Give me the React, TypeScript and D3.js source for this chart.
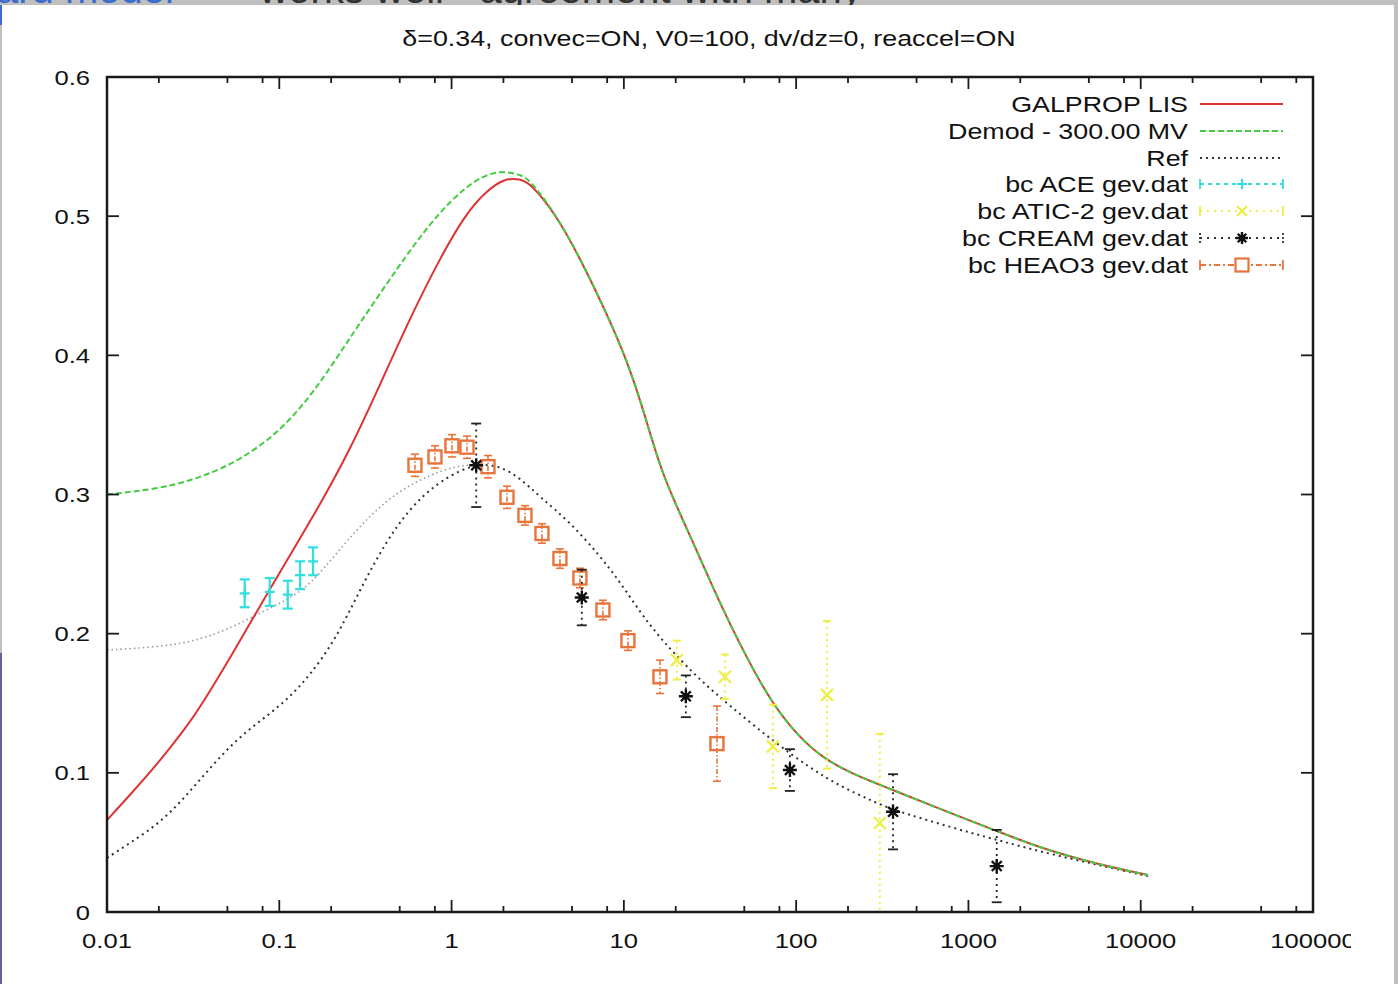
import React from "react";
import * as d3 from "d3";

// ---------- data ----------
const titleText = "δ=0.34, convec=ON, V0=100, dv/dz=0, reaccel=ON";
const xTickVals = [0.01, 0.1, 1, 10, 100, 1000, 10000, 100000];
const xTickLabels = ["0.01", "0.1", "1", "10", "100", "1000", "10000", "100000"];
const yTickVals = [0, 0.1, 0.2, 0.3, 0.4, 0.5, 0.6];
const yTickLabels = ["0", "0.1", "0.2", "0.3", "0.4", "0.5", "0.6"];
const minorMult = [2, 5, 8];

const lisE = [0.01, 0.0136, 0.0203, 0.0291, 0.0347, 0.0539, 0.0773, 0.111, 0.172, 0.257, 0.384, 0.574, 0.857, 1.197, 1.563, 2.042, 2.496, 2.852, 3.985, 5.566, 7.773, 10.43, 13.27, 16.65, 24.2, 34.72, 50.48, 73.4, 105.3, 143.2, 205.4, 365, 781.6, 1465, 2602, 5800, 11020];
const lisV = [0.0661, 0.0841, 0.1085, 0.1335, 0.147, 0.1861, 0.2199, 0.2529, 0.2925, 0.332, 0.3787, 0.4268, 0.4699, 0.5008, 0.5174, 0.5274, 0.5267, 0.5239, 0.5023, 0.4699, 0.4326, 0.3966, 0.3571, 0.314, 0.2709, 0.2263, 0.1847, 0.1487, 0.125, 0.1107, 0.0999, 0.0877, 0.0711, 0.0582, 0.046, 0.0338, 0.0266];

const demodE = [0.01, 0.02, 0.035, 0.06, 0.1, 0.15, 0.2, 0.3, 0.5, 0.7, 1, 1.4, 1.9, 2.5, 2.852, 3.985, 5.566, 7.773, 10.43, 13.27, 16.65, 24.2, 34.72, 50.48, 73.4, 105.3, 143.2, 205.4, 365, 781.6, 1465, 2602, 5800, 11020];
const demodV = [0.3, 0.304, 0.312, 0.325, 0.345, 0.37, 0.392, 0.425, 0.465, 0.49, 0.512, 0.527, 0.533, 0.53, 0.526, 0.5023, 0.4699, 0.4326, 0.3966, 0.3571, 0.314, 0.2709, 0.2263, 0.1847, 0.1487, 0.125, 0.1107, 0.0999, 0.0877, 0.0711, 0.0582, 0.046, 0.0338, 0.0266];

const refE = [0.01, 0.0136, 0.0203, 0.0284, 0.0396, 0.0553, 0.0773, 0.111, 0.151, 0.211, 0.294, 0.411, 0.574, 0.801, 1.119, 1.462, 1.91, 2.496, 3.261, 4.867, 7.269, 9.497, 12.41, 15.57, 19.29, 27.66, 41.31, 73.4, 120.3, 179.7, 268.4, 365, 781.6, 1465, 2975, 5800, 11020];
const refV = [0.0388, 0.0496, 0.064, 0.0826, 0.1035, 0.1229, 0.1372, 0.1523, 0.1703, 0.1954, 0.2314, 0.2651, 0.2903, 0.3068, 0.3176, 0.3219, 0.3205, 0.3119, 0.2982, 0.2802, 0.2558, 0.2371, 0.2156, 0.1998, 0.1868, 0.1667, 0.148, 0.1229, 0.1035, 0.0905, 0.0805, 0.0733, 0.0611, 0.0517, 0.0417, 0.0335, 0.0258];

const refModE = [0.01, 0.0203, 0.0347, 0.0539, 0.0773, 0.111, 0.151, 0.225, 0.336, 0.502, 0.75, 1.047, 1.462];
const refModV = [0.1883, 0.1904, 0.1954, 0.2048, 0.2149, 0.2242, 0.235, 0.2608, 0.2853, 0.3032, 0.314, 0.3205, 0.3219];

const aceE = [0.063, 0.088, 0.112, 0.132, 0.157];
const aceV = [0.229, 0.23, 0.228, 0.242, 0.252];
const aceErr = [0.01, 0.01, 0.01, 0.01, 0.01];

const aticE = [20.3, 38.6, 73.3, 151, 306];
const aticV = [0.181, 0.169, 0.119, 0.156, 0.064];
const aticErr = [0.014, 0.016, 0.03, 0.053, 0.064];

const creamE = [1.39, 5.7, 22.9, 92, 365, 1460];
const creamV = [0.321, 0.226, 0.155, 0.102, 0.072, 0.033];
const creamErr = [0.03, 0.02, 0.015, 0.015, 0.027, 0.026];

const heaoE = [0.613, 0.801, 1.005, 1.229, 1.627, 2.097, 2.667, 3.347, 4.256, 5.559, 7.56, 10.56, 16.2, 34.7];
const heaoV = [0.321, 0.327, 0.335, 0.334, 0.32, 0.298, 0.285, 0.272, 0.254, 0.24, 0.217, 0.195, 0.169, 0.121];
const heaoErr = [0.008, 0.008, 0.008, 0.008, 0.008, 0.008, 0.007, 0.007, 0.007, 0.007, 0.007, 0.007, 0.012, 0.027];

const legendLabels = ["GALPROP LIS", "Demod - 300.00 MV", "Ref", "bc ACE gev.dat", "bc ATIC-2 gev.dat", "bc CREAM gev.dat", "bc HEAO3 gev.dat"];

// ---------- styles ----------
const FONT = "'Liberation Sans', Arial, Helvetica, sans-serif";
const RED = "#dd3333";
const GREEN = "#44cc44";
const CYAN = "#33dde0";
const YELLOW = "#eeee44";
const ORANGE = "#e8743c";
const SX = 1.22;

const W = 1398, H = 984;
const L = 107, R = 1313, T = 77, B = 912;

const x = d3.scaleLog().domain([0.01, 100000]).range([L, R]);
const y = d3.scaleLinear().domain([0, 0.6]).range([B, T]);

const lineGen = d3
  .line<[number, number]>()
  .x((d) => x(d[0]))
  .y((d) => y(d[1]))
  .curve(d3.curveBasis);

const zipP = (a: number[], b: number[]) => a.map((v, i) => [v, b[i]] as [number, number]);

function Txt({ x0, y0, anchor, size, children, fill = "#111" }: any) {
  return (
    <text
      transform={`translate(${x0},${y0}) scale(${SX},1)`}
      textAnchor={anchor}
      fontFamily={FONT}
      fontSize={size}
      fill={fill}
    >
      {children}
    </text>
  );
}

function Asterisk({ cx, cy, r, color }: any) {
  const d = [0, 45, 90, 135]
    .map((a) => {
      const rad = (a * Math.PI) / 180;
      const dx = Math.cos(rad) * r, dy = Math.sin(rad) * r;
      return `M${cx - dx},${cy - dy}L${cx + dx},${cy + dy}`;
    })
    .join("");
  return <path d={d} stroke={color} strokeWidth={2.4} fill="none" />;
}

function Cross({ cx, cy, r, color, plus }: any) {
  const d = plus
    ? `M${cx - r},${cy}L${cx + r},${cy}M${cx},${cy - r}L${cx},${cy + r}`
    : `M${cx - r},${cy - r}L${cx + r},${cy + r}M${cx - r},${cy + r}L${cx + r},${cy - r}`;
  return <path d={d} stroke={color} strokeWidth={2.2} fill="none" />;
}

function ErrBar({ px, v, e, color, dash, cap, width = 1.6 }: any) {
  const y1 = y(v + e), y2 = y(v - e);
  return (
    <g stroke={color} strokeWidth={width} fill="none">
      <line x1={px} x2={px} y1={y1} y2={y2} strokeDasharray={dash} />
      <line x1={px - cap} x2={px + cap} y1={y1} y2={y1} />
      <line x1={px - cap} x2={px + cap} y1={y2} y2={y2} />
    </g>
  );
}

export default function App() {
  const minorTicks: number[] = [];
  for (let d = 0.01; d < 100000; d *= 10) for (const m of minorMult) minorTicks.push(d * m);

  const legY = [104, 131, 158, 184, 211, 238, 265];
  const lx1 = 1200, lx2 = 1283, lxm = 1242;

  return (
    <div style={{ position: "absolute", left: 0, top: 0 }}>
      <svg width={W} height={H} style={{ display: "block" }}>
        <defs>
          <clipPath id="plotClip">
            <rect x={L} y={T} width={R - L} height={B - T} />
          </clipPath>
          <clipPath id="canvasClip">
            <rect x={0} y={0} width={1351} height={H} />
          </clipPath>
          <clipPath id="topClip">
            <rect x={0} y={0} width={W} height={5} />
          </clipPath>
        </defs>
        {/* slide background */}
        <rect x={0} y={0} width={W} height={H} fill="#bfbfbf" />
        <rect x={2} y={5} width={1392} height={H - 5} fill="#ffffff" />
        <rect x={0} y={653} width={2} height={331} fill="#6a5c98" />
        <rect x={0} y={5} width={2} height={20} fill="#3a6ccc" />
        <g clipPath="url(#topClip)">
          <text x={-4} y={3} fontFamily={FONT} fontSize={40} fill="#3a6ccc">ard model</text>
          <text x={235} y={3} fontFamily={FONT} fontSize={40} fill="#333">” works well - agreement with many</text>
        </g>

        {/* title */}
        <Txt x0={709} y0={46} anchor="middle" size={22}>{titleText}</Txt>

        {/* curves */}
        <g clipPath="url(#plotClip)" fill="none">
          <path d={lineGen(zipP(refModE, refModV)) || ""} stroke="#9a9a9a" strokeWidth={1.6} strokeDasharray="1.5,3" />
          <path d={lineGen(zipP(refE, refV)) || ""} stroke="#333" strokeWidth={2} strokeDasharray="2,4" />
          <path d={lineGen(zipP(lisE, lisV)) || ""} stroke={RED} strokeWidth={2} />
          <path d={lineGen(zipP(demodE, demodV)) || ""} stroke={GREEN} strokeWidth={2} strokeDasharray="6,3" />
        </g>

        {/* data points */}
        <g>
          {aticE.map((e, i) => (
            <g key={"atic" + i}>
              <ErrBar px={x(e)} v={aticV[i]} e={aticErr[i]} color={YELLOW} dash="2,4" cap={4} width={2} />
              <Cross cx={x(e)} cy={y(aticV[i])} r={6} color={YELLOW} />
            </g>
          ))}
          {aceE.map((e, i) => (
            <g key={"ace" + i}>
              <ErrBar px={x(e)} v={aceV[i]} e={aceErr[i]} color={CYAN} cap={5} width={2.2} />
              <Cross cx={x(e)} cy={y(aceV[i])} r={5} color={CYAN} plus />
            </g>
          ))}
          {heaoE.map((e, i) => (
            <g key={"heao" + i}>
              <ErrBar px={x(e)} v={heaoV[i]} e={heaoErr[i]} color={ORANGE} dash="5,2,1.5,2" cap={4} width={1.6} />
              <rect x={x(e) - 6.5} y={y(heaoV[i]) - 6.5} width={13} height={13} fill="none" stroke={ORANGE} strokeWidth={2.4} />
            </g>
          ))}
          {creamE.map((e, i) => (
            <g key={"cream" + i}>
              <ErrBar px={x(e)} v={creamV[i]} e={creamErr[i]} color="#222" dash="2,4" cap={5} width={1.8} />
              <Asterisk cx={x(e)} cy={y(creamV[i])} r={7} color="#111" />
            </g>
          ))}
        </g>

        {/* frame */}
        <rect x={L} y={T} width={R - L} height={B - T} fill="none" stroke="#1a1a1a" strokeWidth={2.5} />

        {/* ticks */}
        <g stroke="#1a1a1a" strokeWidth={1.8}>
          {xTickVals.map((v) => (
            <g key={"xt" + v}>
              <line x1={x(v)} x2={x(v)} y1={B} y2={B - 12} />
              <line x1={x(v)} x2={x(v)} y1={T} y2={T + 12} />
            </g>
          ))}
          {minorTicks.map((v) => (
            <g key={"xm" + v}>
              <line x1={x(v)} x2={x(v)} y1={B} y2={B - 6} />
              <line x1={x(v)} x2={x(v)} y1={T} y2={T + 6} />
            </g>
          ))}
          {yTickVals.map((v) => (
            <g key={"yt" + v}>
              <line x1={L} x2={L + 12} y1={y(v)} y2={y(v)} />
              <line x1={R} x2={R - 12} y1={y(v)} y2={y(v)} />
            </g>
          ))}
        </g>

        {/* tick labels */}
        <g clipPath="url(#canvasClip)">
          {xTickVals.map((v, i) => (
            <Txt key={"xl" + v} x0={x(v)} y0={948} anchor="middle" size={21}>{xTickLabels[i]}</Txt>
          ))}
        </g>
        {yTickVals.map((v, i) => (
          <Txt key={"yl" + v} x0={90} y0={y(v) + 7.5} anchor="end" size={21}>{yTickLabels[i]}</Txt>
        ))}

        {/* legend */}
        <g>
          {legendLabels.map((lab, i) => (
            <Txt key={"lg" + i} x0={1188} y0={legY[i] + 8} anchor="end" size={22}>{lab}</Txt>
          ))}
          <line x1={lx1} x2={lx2} y1={legY[0]} y2={legY[0]} stroke={RED} strokeWidth={2} />
          <line x1={lx1} x2={lx2} y1={legY[1]} y2={legY[1]} stroke={GREEN} strokeWidth={2} strokeDasharray="6,3" />
          <line x1={lx1} x2={lx2} y1={legY[2]} y2={legY[2]} stroke="#333" strokeWidth={2} strokeDasharray="2,4" />
          {/* ACE */}
          <g stroke={CYAN} strokeWidth={1.8}>
            <line x1={lx1} x2={lx2} y1={legY[3]} y2={legY[3]} strokeDasharray="4,4" />
            <line x1={lx1} x2={lx1} y1={legY[3] - 5} y2={legY[3] + 5} />
            <line x1={lx2} x2={lx2} y1={legY[3] - 5} y2={legY[3] + 5} />
          </g>
          <Cross cx={lxm} cy={legY[3]} r={5} color={CYAN} plus />
          {/* ATIC */}
          <g stroke={YELLOW} strokeWidth={1.8}>
            <line x1={lx1} x2={lx2} y1={legY[4]} y2={legY[4]} strokeDasharray="2,5" />
            <line x1={lx1} x2={lx1} y1={legY[4] - 5} y2={legY[4] + 5} />
            <line x1={lx2} x2={lx2} y1={legY[4] - 5} y2={legY[4] + 5} />
          </g>
          <Cross cx={lxm} cy={legY[4]} r={5} color={YELLOW} />
          {/* CREAM */}
          <g stroke="#333" strokeWidth={1.8}>
            <line x1={lx1} x2={lx2} y1={legY[5]} y2={legY[5]} strokeDasharray="2,5" />
            <line x1={lx1} x2={lx1} y1={legY[5] - 5} y2={legY[5] + 5} strokeDasharray="2,2" />
            <line x1={lx2} x2={lx2} y1={legY[5] - 5} y2={legY[5] + 5} strokeDasharray="2,2" />
          </g>
          <Asterisk cx={lxm} cy={legY[5]} r={6} color="#111" />
          {/* HEAO3 */}
          <g stroke={ORANGE} strokeWidth={1.8}>
            <line x1={lx1} x2={lx2} y1={legY[6]} y2={legY[6]} strokeDasharray="6,3,2,3" />
            <line x1={lx1} x2={lx1} y1={legY[6] - 5} y2={legY[6] + 5} />
            <line x1={lx2} x2={lx2} y1={legY[6] - 5} y2={legY[6] + 5} />
          </g>
          <rect x={lxm - 6.5} y={legY[6] - 6.5} width={13} height={13} fill="#fff" stroke={ORANGE} strokeWidth={2.2} />
        </g>
      </svg>
    </div>
  );
}
